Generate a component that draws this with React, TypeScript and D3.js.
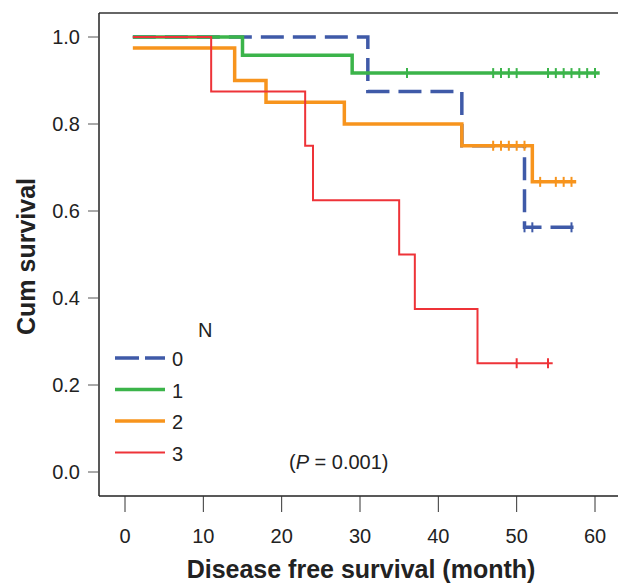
import React from "react";
import * as d3 from "d3";

// Kaplan-Meier steps: [month, survival after that month]
const groups = ["0", "1", "2", "3"];
const colors = ["#3f5aa8", "#3bb44a", "#f7941d", "#ee3338"];
const widths = [3.5, 3.5, 3.5, 2];
const startSurv = [1, 1, 0.975, 1];
const steps: [number, number][][] = [
  [[31, 0.875], [43, 0.75], [51, 0.5625]],
  [[15, 0.958], [29, 0.917]],
  [[14, 0.9], [18, 0.85], [28, 0.8], [43, 0.75], [52, 0.667]],
  [[11, 0.875], [23, 0.75], [24, 0.625], [35, 0.5], [37, 0.375], [45, 0.25]],
];
const censored: number[][] = [
  [51, 52, 57],
  [36, 47, 48, 49, 50, 54, 55, 56, 57, 58, 59, 60],
  [47, 48, 49, 50, 51, 53, 55, 56, 57],
  [50, 54],
];
const endMonth = [57.6, 60.6, 57.6, 54.6];
const xTicks = [0, 10, 20, 30, 40, 50, 60];
const yTicks = [0, 0.2, 0.4, 0.6, 0.8, 1.0];

export default function App() {
  const W = 618, H = 586;
  const left = 99, top = 13, bottom = 496;
  const x = d3.scaleLinear().domain([0, 60]).range([125, 595]);
  const y = d3.scaleLinear().domain([0, 1]).range([472, 37]);
  const font = "'Liberation Sans', Arial, sans-serif";

  const survAt = (g: number, m: number) => {
    let s = startSurv[g];
    for (const [t, v] of steps[g]) if (t <= m) s = v;
    return s;
  };

  const paths = groups.map((_, g) => {
    const pts: [number, number][] = [[1, startSurv[g]]];
    let s = startSurv[g];
    for (const [t, v] of steps[g]) {
      pts.push([t, s]);
      pts.push([t, v]);
      s = v;
    }
    pts.push([endMonth[g], s]);
    return d3.line()(pts.map(([m, v]) => [x(m), y(v)] as [number, number]));
  });

  return (
    <svg width={W} height={H} style={{ position: "absolute", left: 0, top: 0 }}>
      <rect width={W} height={H} fill="#fff" />
      <line x1={left} x2={W} y1={top} y2={top} stroke="#333" strokeWidth={1.3} />
      <line x1={left} x2={W} y1={bottom} y2={bottom} stroke="#222" strokeWidth={1.5} />
      <line x1={left} x2={left} y1={top} y2={bottom} stroke="#222" strokeWidth={1.5} />
      {xTicks.map((t) => (
        <g key={t}>
          <line x1={x(t)} x2={x(t)} y1={bottom} y2={bottom + 16} stroke="#333" />
          <text x={x(t)} y={543} textAnchor="middle" fontSize={20} fontFamily={font} fill="#222">{t}</text>
        </g>
      ))}
      {yTicks.map((t) => (
        <g key={t}>
          <line x1={88} x2={left} y1={y(t)} y2={y(t)} stroke="#555" />
          <text x={80} y={y(t) + 7} textAnchor="end" fontSize={20} fontFamily={font} fill="#222">{t.toFixed(1)}</text>
        </g>
      ))}
      <text x={361} y={578} textAnchor="middle" fontSize={25} fontWeight="bold" fontFamily={font} fill="#222">Disease free survival (month)</text>
      <text transform={`translate(35,${(top + bottom) / 2 + 2}) rotate(-90)`} textAnchor="middle" fontSize={25} fontWeight="bold" fontFamily={font} fill="#222">Cum survival</text>
      {paths.map((d, g) => (
        <path key={g} d={d ?? ""} fill="none" stroke={colors[g]} strokeWidth={widths[g]} strokeDasharray={g === 0 ? "23,9" : undefined} />
      ))}
      {censored.map((cs, g) =>
        cs.map((m, i) => (
          <line key={`${g}-${i}`} x1={x(m)} x2={x(m)} y1={y(survAt(g, m)) - 5} y2={y(survAt(g, m)) + 5} stroke={colors[g]} strokeWidth={2} />
        ))
      )}
      <text x={198} y={337} fontSize={20} fontFamily={font} fill="#222">N</text>
      {groups.map((name, g) => {
        const ly = 358 + g * 31.5;
        return (
          <g key={name}>
            <line x1={115} x2={165} y1={ly} y2={ly} stroke={colors[g]} strokeWidth={widths[g]} strokeDasharray={g === 0 ? "24,6" : undefined} />
            <text x={172} y={ly + 8} fontSize={20} fontFamily={font} fill="#222">{name}</text>
          </g>
        );
      })}
      <text x={289} y={469} fontSize={20} fontFamily={font} fill="#222">
        (<tspan fontStyle="italic">P</tspan> = 0.001)
      </text>
    </svg>
  );
}
